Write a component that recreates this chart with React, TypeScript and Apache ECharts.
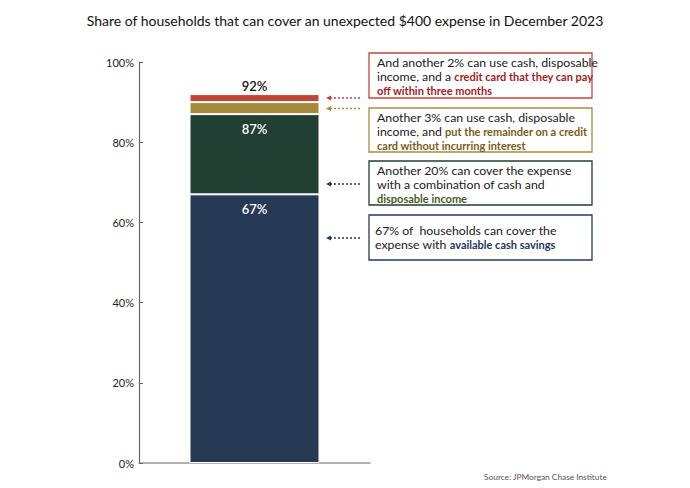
import React, { useEffect, useRef } from "react";
import * as echarts from "echarts";

const categories = ["December 2023"];
const cashSavings = [67];
const cashAndIncome = [20];
const creditNoInterest = [3];
const creditPayoff = [2];
const cumulativeLabels = ["67%", "87%", "", "92%"];
const yTicks = [0, 20, 40, 60, 80, 100];

const FONT = "Lato";

export default function App() {
  const ref = useRef<HTMLDivElement>(null);
  useEffect(() => {
    if (!ref.current) return;
    const chart = echarts.init(ref.current, null, { renderer: "svg" });
    const txt = "#1a1a1a";
    const box = (x: number, y: number, w: number, h: number, color: string) => ({
      type: "rect",
      shape: { x, y, width: w, height: h },
      style: { fill: "#fff", stroke: color, lineWidth: 1.3 },
      z: 10,
    });
    const arrow = (y: number, color: string) => ({
      type: "group",
      z: 10,
      children: [
        {
          type: "line",
          shape: { x1: 330, y1: y, x2: 362, y2: y },
          style: { stroke: color, lineWidth: 1.6, lineDash: [2, 2] },
        },
        {
          type: "polygon",
          shape: { points: [[326, y], [331, y - 2.5], [331, y + 2.5]] },
          style: { fill: color },
        },
      ],
    });
    const boxText = (x: number, y: number, text: string, hiColor: string) => ({
      type: "text",
      x,
      y,
      z: 11,
      style: {
        text,
        fontFamily: FONT,
        fontSize: 12.3,
        lineHeight: 14,
        fill: txt,
        rich: {
          n: { fontFamily: FONT, fontSize: 12.3, lineHeight: 14, fill: txt },
          h: { fontFamily: FONT, fontSize: 11, lineHeight: 14, fill: hiColor, fontWeight: "bold" },
        },
      },
    });
    const segLabel = (idx: number, pos: string, color: string, dist: number) => ({
      show: cumulativeLabels[idx] !== "",
      position: pos,
      distance: dist,
      formatter: () => cumulativeLabels[idx],
      color,
      fontFamily: FONT,
      fontSize: 13,
      fontWeight: 600,
    });
    chart.setOption({
      animation: false,
      title: {
        text: "Share of households that can cover an unexpected $400 expense in December 2023",
        left: "center",
        top: 8,
        textStyle: { fontFamily: FONT, fontSize: 14, fontWeight: 400, color: "#111" },
      },
      grid: { left: 139, right: 320, top: 62, bottom: 25, containLabel: false },
      xAxis: {
        type: "category",
        data: categories,
        axisLine: { lineStyle: { color: "#999", width: 1.5 } },
        axisTick: { show: false },
        axisLabel: { show: false },
      },
      yAxis: {
        type: "value",
        min: yTicks[0],
        max: yTicks[yTicks.length - 1],
        interval: 20,
        axisLine: { show: true, lineStyle: { color: "#666", width: 1.2 } },
        axisTick: { show: true, inside: true, length: 4, lineStyle: { color: "#666" } },
        splitLine: { show: false },
        axisLabel: {
          formatter: "{value}%",
          fontFamily: FONT,
          fontSize: 11,
          color: "#222",
          margin: 5,
        },
      },
      series: [
        {
          type: "bar",
          stack: "s",
          data: cashSavings,
          barWidth: 130,
          itemStyle: { color: "#263a55", borderColor: "#fff", borderWidth: 1 },
          label: segLabel(0, "insideTop", "#fff", 8),
        },
        {
          type: "bar",
          stack: "s",
          data: cashAndIncome,
          itemStyle: { color: "#213f33", borderColor: "#fff", borderWidth: 1 },
          label: segLabel(1, "insideTop", "#fff", 8),
        },
        {
          type: "bar",
          stack: "s",
          data: creditNoInterest,
          itemStyle: { color: "#a68a3b", borderColor: "#fff", borderWidth: 1 },
          label: segLabel(2, "insideTop", "#fff", 8),
        },
        {
          type: "bar",
          stack: "s",
          data: creditPayoff,
          itemStyle: { color: "#c1443b", borderColor: "#fff", borderWidth: 1 },
          label: segLabel(3, "top", "#111", 2),
        },
      ],
      graphic: [
        box(369, 53, 223, 45, "#c4453f"),
        boxText(377, 55, "{n|And another 2% can use cash, disposable}\n{n|income, and a }{h|credit card that they can pay}\n{h|off within three months}", "#a11d1d"),
        box(369, 108, 223, 44, "#a98c3f"),
        boxText(377, 110, "{n|Another 3% can use cash, disposable}\n{n|income, and }{h|put the remainder on a credit}\n{h|card without incurring interest}", "#7b5c17"),
        box(369, 161, 223, 44, "#213f33"),
        boxText(377, 163, "{n|Another 20% can cover the expense}\n{n|with a combination of cash and}\n{h|disposable income}", "#4b5a22"),
        box(369, 215, 223, 45, "#263a55"),
        boxText(375, 223, "{n|67% of  households can cover the}\n{n|expense with }{h|available cash savings}", "#1f3560"),
        arrow(98, "#c1443b"),
        arrow(108.5, "#a68a3b"),
        arrow(184, "#213f33"),
        arrow(238, "#263a55"),
        {
          type: "text",
          right: 83,
          top: 473,
          style: {
            text: "Source: JPMorgan Chase Institute",
            fontFamily: FONT,
            fontSize: 8.3,
            fill: "#555",
          },
        },
      ],
    });
    return () => chart.dispose();
  }, []);
  return <div ref={ref} style={{ width: 690, height: 488, position: "absolute", left: 0, top: 0 }} />;
}
